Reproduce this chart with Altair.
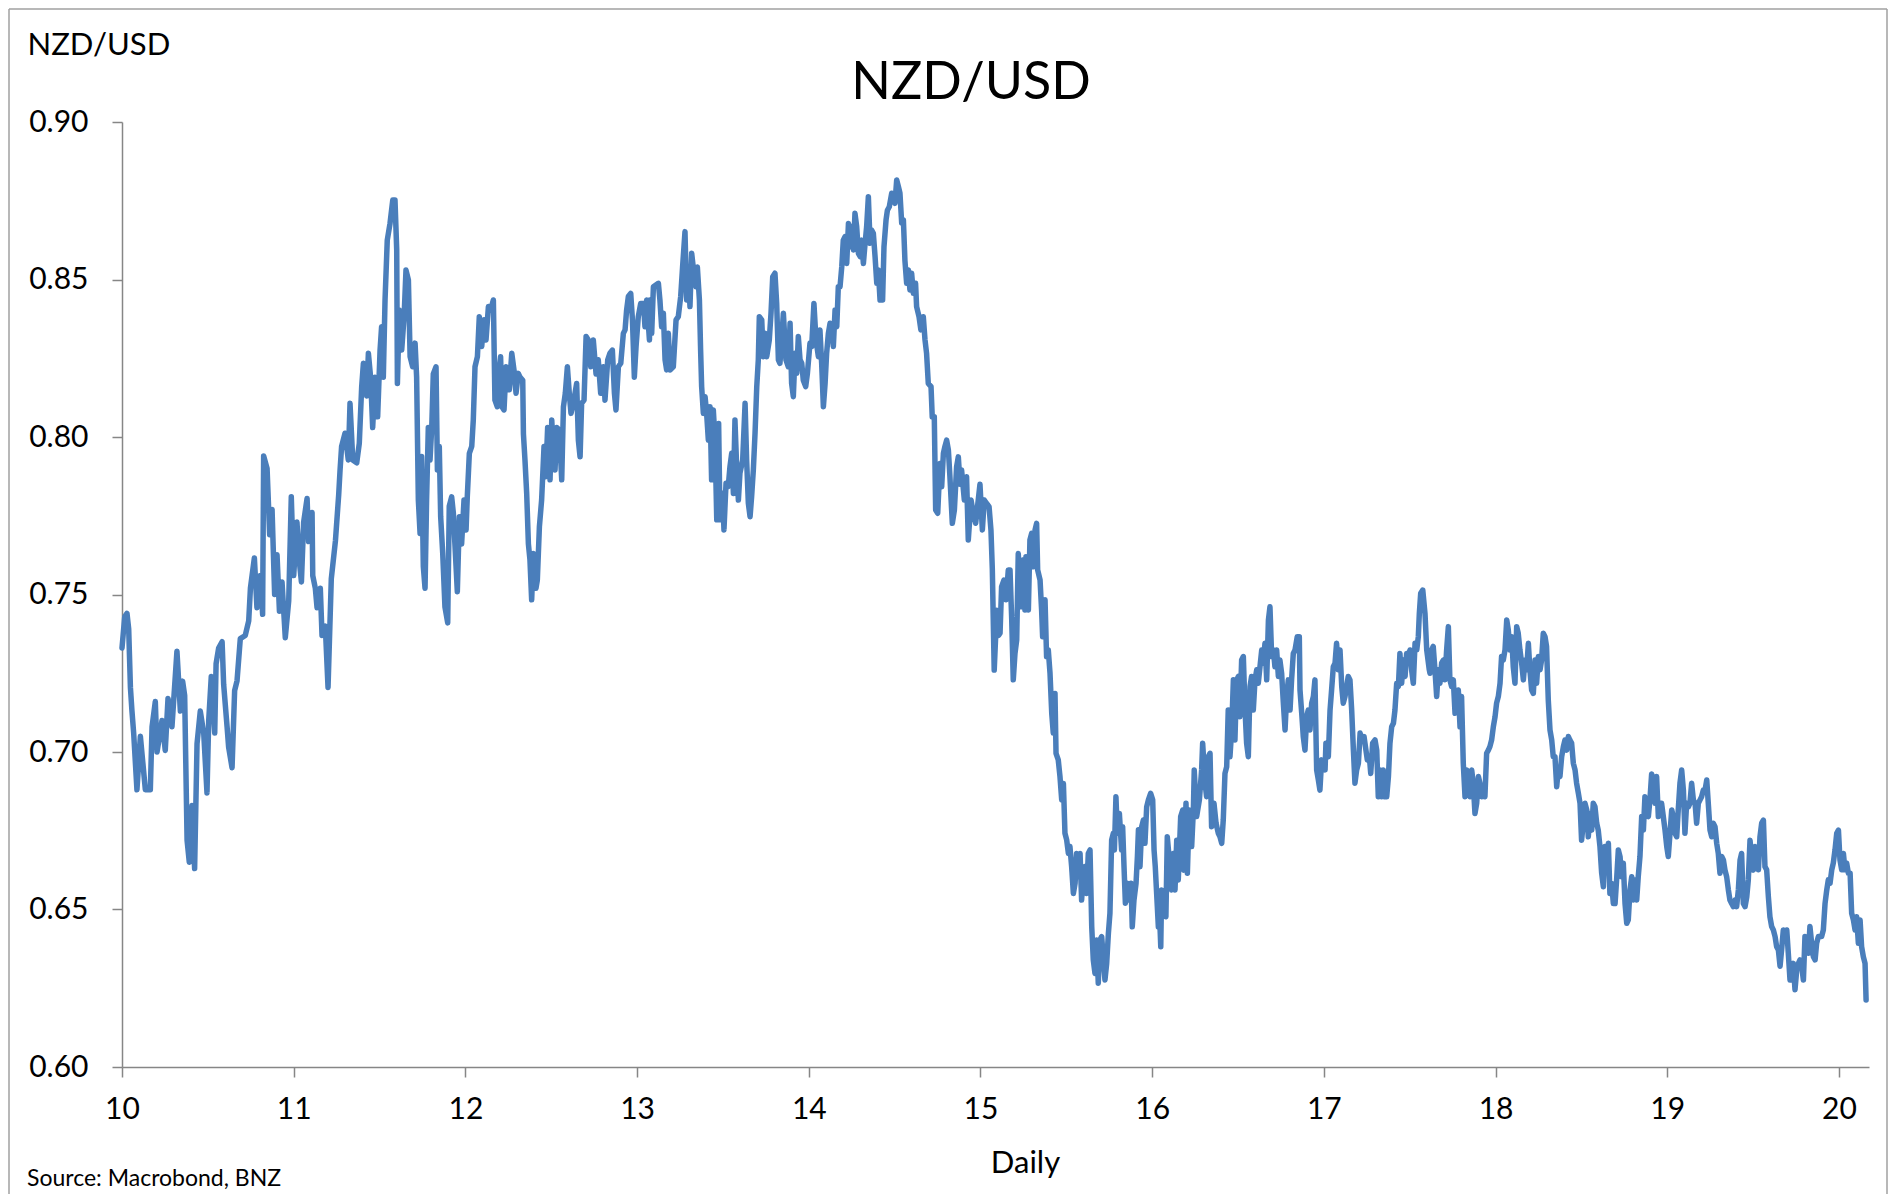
import altair as alt
import pandas as pd

# ---- data (year as decimal, 10 = 2010) ----
YEARS_2010 = [
    10.000, 10.016, 10.029, 10.039, 10.049, 10.058, 10.068, 10.087, 10.107, 10.136,
    10.165, 10.175, 10.194, 10.204, 10.233, 10.252, 10.268, 10.291, 10.320, 10.340,
    10.353, 10.365, 10.379, 10.392, 10.408, 10.423, 10.437, 10.456, 10.476, 10.495,
    10.505, 10.520, 10.540, 10.548, 10.563, 10.583, 10.592, 10.612, 10.621, 10.641,
    10.656, 10.670, 10.689, 10.718, 10.738, 10.748, 10.771, 10.786, 10.806, 10.819,
    10.825, 10.845, 10.860, 10.874, 10.889, 10.903, 10.917, 10.932, 10.951, 10.971,
    10.986, 11.000, 11.019, 11.033, 11.045, 11.058, 11.078, 11.087, 11.107, 11.111,
    11.126, 11.136, 11.155, 11.165, 11.184, 11.200, 11.219, 11.243, 11.262,
    11.270, 11.279, 11.299, 11.318, 11.328, 11.344, 11.367, 11.382, 11.396, 11.406,
    11.425, 11.435, 11.448, 11.460, 11.474, 11.489, 11.503, 11.512, 11.522, 11.532,
    11.545, 11.561, 11.577, 11.590, 11.600, 11.604, 11.615, 11.629, 11.643, 11.654,
    11.668, 11.678, 11.693, 11.707,
]
RATES_2010 = [
    0.733, 0.743, 0.744, 0.739, 0.7205, 0.713, 0.706, 0.688, 0.705, 0.688,
    0.688, 0.708, 0.716, 0.700, 0.710, 0.7005, 0.717, 0.708, 0.732, 0.713,
    0.7225, 0.718, 0.672, 0.665, 0.683, 0.663, 0.7026, 0.713, 0.706, 0.687,
    0.710, 0.724, 0.706, 0.728, 0.733, 0.735, 0.7215, 0.708, 0.7016, 0.695,
    0.7195, 0.7226, 0.736, 0.737, 0.7416, 0.752, 0.7616, 0.7458, 0.756, 0.7437,
    0.794, 0.790, 0.769, 0.777, 0.750, 0.7626, 0.7447, 0.754, 0.7363, 0.748,
    0.781, 0.756, 0.773, 0.7605, 0.754, 0.773, 0.7805, 0.7668, 0.776, 0.756,
    0.752, 0.7458, 0.752, 0.737, 0.740, 0.7205, 0.755, 0.767, 0.7816,
    0.7895, 0.797, 0.8012, 0.7927, 0.8107, 0.7927, 0.7918, 0.798, 0.816, 0.8234,
    0.813, 0.8266, 0.819, 0.803, 0.819, 0.8064, 0.8276, 0.835, 0.819, 0.8435,
    0.8625, 0.8678, 0.8752, 0.8752, 0.8594, 0.817, 0.8403, 0.8276, 0.8382, 0.853,
    0.8499, 0.8255, 0.8223, 0.8298,
]

YEARS_2012 = [
    11.716, 11.726, 11.736, 11.745, 11.755, 11.765, 11.774, 11.784, 11.794, 11.804,
    11.813, 11.829, 11.837, 11.848, 11.856, 11.868, 11.881, 11.897, 11.906, 11.920,
    11.930, 11.939, 11.953, 11.965, 11.978, 11.992, 12.004, 12.011, 12.023, 12.037,
    12.046, 12.056, 12.070, 12.081, 12.095, 12.108, 12.120, 12.134, 12.147, 12.163,
    12.172, 12.186, 12.198, 12.205, 12.213, 12.225, 12.237, 12.256, 12.270, 12.283,
    12.295, 12.308, 12.318, 12.334, 12.338, 12.347, 12.357, 12.367, 12.376, 12.386,
    12.396, 12.411, 12.419, 12.431, 12.444, 12.458, 12.468, 12.479, 12.493, 12.503,
    12.512, 12.522, 12.532, 12.547, 12.561, 12.571, 12.582, 12.594, 12.605, 12.615,
    12.629, 12.648, 12.658, 12.668, 12.677, 12.691, 12.703, 12.716, 12.730, 12.745,
    12.761, 12.774, 12.788, 12.804, 12.813, 12.829, 12.842, 12.856, 12.868, 12.877,
    12.891, 12.905, 12.920, 12.930, 12.939, 12.949, 12.963, 12.973, 12.984, 12.994,
    13.007, 13.021, 13.037, 13.046, 13.056, 13.072,
]
RATES_2012 = [
    0.819, 0.780, 0.7694, 0.7938, 0.7589, 0.752, 0.780, 0.803, 0.7927, 0.803,
    0.820, 0.8223, 0.7895, 0.797, 0.7747, 0.763, 0.746, 0.741, 0.778, 0.781,
    0.7758, 0.766, 0.7509, 0.7747, 0.766, 0.780, 0.7705, 0.781, 0.7948, 0.797,
    0.8054, 0.8223, 0.8255, 0.8382, 0.8287, 0.8372, 0.8308, 0.8414, 0.8403, 0.8435,
    0.8117, 0.8096, 0.8223, 0.8255, 0.8096, 0.8086, 0.8223, 0.815, 0.8266, 0.8213,
    0.8139, 0.8202, 0.819, 0.818, 0.801, 0.7927, 0.7821, 0.766, 0.761, 0.7483,
    0.763, 0.752, 0.7546, 0.7715, 0.780, 0.797, 0.7874, 0.803, 0.7864, 0.8054,
    0.7959, 0.7895, 0.803, 0.8022, 0.7864, 0.8096, 0.8139, 0.8223, 0.8139, 0.8075,
    0.8107, 0.817, 0.799, 0.7937, 0.8107, 0.8117, 0.8319, 0.8308, 0.8223, 0.8308,
    0.820, 0.8245, 0.8139, 0.8223, 0.8117, 0.8245, 0.8266, 0.8276, 0.8139, 0.8086,
    0.8223, 0.8234, 0.8329, 0.834, 0.8403, 0.8446, 0.8456, 0.8372, 0.819, 0.8287,
    0.8382, 0.8424, 0.8424, 0.835, 0.8435, 0.8308,
]

YEARS_2013 = [
    13.075, 13.085, 13.095, 13.124, 13.133, 13.143, 13.153, 13.163, 13.172, 13.182,
    13.192, 13.211, 13.227, 13.240, 13.254, 13.265, 13.279, 13.289, 13.298, 13.308,
    13.318, 13.331, 13.343, 13.351, 13.363, 13.370, 13.376, 13.386, 13.396, 13.405,
    13.415, 13.425, 13.434, 13.444, 13.454, 13.464, 13.475, 13.483, 13.498, 13.506,
    13.518, 13.531, 13.541, 13.551, 13.561, 13.570, 13.580, 13.590, 13.599, 13.615,
    13.629, 13.638, 13.648, 13.658, 13.667, 13.677, 13.687, 13.697, 13.706, 13.712,
    13.726, 13.735, 13.745, 13.755, 13.770, 13.780, 13.790, 13.803, 13.813, 13.823,
    13.832, 13.842, 13.852, 13.867, 13.881, 13.891, 13.900, 13.910, 13.920, 13.930,
    13.939, 13.949, 13.959, 13.968, 13.982, 13.992, 14.007, 14.017, 14.030, 14.042,
    14.056, 14.065, 14.075, 14.085, 14.095, 14.104, 14.114, 14.124, 14.134, 14.143,
    14.153, 14.163, 14.172, 14.182, 14.192, 14.201, 14.211, 14.221, 14.231, 14.240,
    14.250, 14.260, 14.269, 14.279, 14.289, 14.299, 14.308, 14.318, 14.328, 14.337,
    14.347, 14.357, 14.366, 14.376, 14.386, 14.396, 14.405, 14.415, 14.430, 14.438,
    14.450, 14.458, 14.469, 14.483, 14.493, 14.502, 14.512, 14.522, 14.531,
]
RATES_2013 = [
    0.8435, 0.8329, 0.8477, 0.8488, 0.8435, 0.835, 0.8393, 0.8245, 0.8213, 0.8329,
    0.8213, 0.8223, 0.8372, 0.8382, 0.8446, 0.854, 0.8652, 0.8435, 0.854, 0.8414,
    0.8583, 0.852, 0.8477, 0.854, 0.8435, 0.8276, 0.816, 0.8075, 0.8128, 0.8075,
    0.799, 0.8096, 0.7864, 0.8086, 0.799, 0.7737, 0.8043, 0.7737, 0.7821, 0.7705,
    0.7853, 0.7843, 0.7906, 0.7948, 0.7821, 0.8054, 0.7906, 0.780, 0.7885, 0.7927,
    0.8107, 0.7927, 0.779, 0.7747, 0.781, 0.7895, 0.8012, 0.816, 0.8245, 0.8382,
    0.8372, 0.8255, 0.8329, 0.8255, 0.8308, 0.8393, 0.8509, 0.852, 0.8424, 0.8245,
    0.8234, 0.8308, 0.8393, 0.8245, 0.8223, 0.8361, 0.817, 0.8128, 0.8266, 0.8202,
    0.8319, 0.8245, 0.8234, 0.818, 0.816, 0.8202, 0.8298, 0.8287, 0.8424, 0.8308,
    0.8255, 0.834, 0.8234, 0.8096, 0.817, 0.8266, 0.8329, 0.8361, 0.835, 0.8287,
    0.8403, 0.835, 0.8477, 0.8477, 0.854, 0.8625, 0.8636, 0.8551, 0.8678, 0.8604,
    0.8668, 0.8594, 0.871, 0.8668, 0.8583, 0.8573, 0.8625, 0.8551, 0.8615, 0.8668,
    0.8763, 0.8615, 0.8657, 0.8647, 0.8573, 0.8488, 0.853, 0.8435, 0.8435, 0.8604,
    0.8689, 0.872, 0.8731, 0.8774, 0.8752, 0.8742, 0.8816, 0.8795, 0.8774,
]

YEARS_2014 = [
    14.541, 14.551, 14.560, 14.570, 14.580, 14.589, 14.599, 14.609, 14.622, 14.628,
    14.642, 14.653, 14.667, 14.677, 14.686, 14.696, 14.712, 14.719, 14.731, 14.739,
    14.751, 14.764, 14.774, 14.784, 14.793, 14.803, 14.813, 14.822, 14.836, 14.848,
    14.861, 14.871, 14.881, 14.890, 14.906, 14.919, 14.929, 14.945, 14.958, 14.972,
    14.987, 14.997, 15.011, 15.022, 15.036, 15.050, 15.061, 15.069, 15.080, 15.095,
    15.105,
    15.114, 15.123, 15.137, 15.149, 15.162, 15.172, 15.182, 15.191, 15.201, 15.211,
    15.220, 15.230, 15.240, 15.250, 15.259, 15.265, 15.279, 15.288, 15.298, 15.308,
    15.318, 15.327, 15.333, 15.347, 15.356, 15.362, 15.376, 15.385, 15.395, 15.405,
    15.415, 15.424, 15.434, 15.440, 15.453, 15.463, 15.473, 15.483, 15.492, 15.502,
    15.512, 15.521, 15.531, 15.541, 15.551, 15.560, 15.570, 15.580, 15.589, 15.599,
    15.609, 15.618, 15.628, 15.638, 15.648, 15.657, 15.667, 15.677, 15.686, 15.696,
    15.706, 15.716, 15.725, 15.735, 15.745, 15.754, 15.764, 15.774, 15.780, 15.789,
    15.797, 15.809, 15.822, 15.828, 15.836, 15.844, 15.855, 15.867, 15.877, 15.884,
    15.894, 15.906, 15.914, 15.920, 15.929, 15.939, 15.949, 15.958, 15.968, 15.978,
    15.991, 16.003, 16.011, 16.018, 16.026, 16.036, 16.042, 16.050,
]
RATES_2014 = [
    0.868, 0.8689, 0.856, 0.8488, 0.853, 0.8467, 0.852, 0.8456, 0.8488, 0.8414,
    0.8382, 0.834, 0.8382, 0.8308, 0.8266, 0.817, 0.816, 0.8064, 0.8064, 0.7768,
    0.7758, 0.7916, 0.7842, 0.7948, 0.797, 0.799, 0.7959, 0.7874, 0.7726, 0.7768,
    0.7906, 0.7937, 0.785, 0.7895, 0.780, 0.7874, 0.7673, 0.780, 0.7758, 0.7726,
    0.780, 0.785, 0.7705, 0.780, 0.7789, 0.7779, 0.7705, 0.758, 0.726, 0.745,
    0.737,
    0.7377, 0.7525, 0.7546, 0.7483, 0.7578, 0.7578, 0.7419, 0.7229, 0.7313, 0.7356,
    0.763, 0.7535, 0.7461, 0.761, 0.7451, 0.762, 0.7451, 0.7673, 0.7694, 0.7588,
    0.7705, 0.7726, 0.7578, 0.7546, 0.7451, 0.7366, 0.7483, 0.7303, 0.7324, 0.725,
    0.7123, 0.706, 0.7186, 0.6996, 0.6975, 0.6922, 0.6848, 0.690, 0.6742, 0.6721,
    0.6678, 0.670, 0.6636, 0.6551, 0.6583, 0.6678, 0.6604, 0.6678, 0.653, 0.6615,
    0.6636, 0.6551, 0.6678, 0.6689, 0.6445, 0.634, 0.6297, 0.6403, 0.6266, 0.6403,
    0.6414, 0.634, 0.6276, 0.6329, 0.6424, 0.6488, 0.6721, 0.6742, 0.6689, 0.6858,
    0.6742, 0.6805, 0.6689, 0.6763, 0.6636, 0.652, 0.6583, 0.653, 0.6583, 0.6445,
    0.653, 0.6583, 0.6668, 0.6753, 0.6636, 0.6763, 0.6784, 0.671, 0.6826, 0.6848,
    0.6869, 0.6848, 0.6689, 0.6636, 0.6551, 0.6445, 0.6498, 0.6382,
]

YEARS_2016 = [
    16.055, 16.065, 16.080, 16.088, 16.100, 16.113, 16.123, 16.133, 16.143, 16.152,
    16.166, 16.178, 16.185, 16.197, 16.205, 16.216, 16.230, 16.240, 16.245, 16.259,
    16.275, 16.288, 16.294, 16.308, 16.317, 16.327, 16.337, 16.346, 16.360, 16.372,
    16.385, 16.395, 16.405, 16.414, 16.424, 16.434, 16.443, 16.453, 16.463, 16.473,
    16.482, 16.492, 16.502, 16.511, 16.521, 16.531, 16.541, 16.550, 16.560, 16.570,
    16.579, 16.589, 16.599, 16.609, 16.618, 16.628, 16.638, 16.647, 16.657, 16.667,
    16.677, 16.686, 16.696, 16.706, 16.715, 16.725, 16.735, 16.744, 16.754, 16.764,
    16.774, 16.783, 16.793, 16.803, 16.812, 16.822, 16.832, 16.845, 16.857, 16.861,
    16.871, 16.880, 16.890, 16.900, 16.909, 16.919, 16.929, 16.939, 16.948, 16.958,
    16.968, 16.977, 16.987, 16.997, 17.007, 17.012, 17.026, 17.036, 17.045, 17.055,
    17.065, 17.074, 17.084, 17.094, 17.104, 17.113, 17.123, 17.133, 17.142, 17.152,
    17.162, 17.172, 17.181, 17.191, 17.201, 17.211, 17.220, 17.234, 17.245, 17.253,
    17.265, 17.273, 17.284, 17.298, 17.308, 17.317, 17.327, 17.337, 17.346, 17.356,
    17.366, 17.376, 17.385, 17.395, 17.405, 17.414, 17.424, 17.434, 17.443, 17.453,
    17.463, 17.473, 17.482, 17.492, 17.502, 17.511, 17.521, 17.531, 17.541, 17.550,
    17.556, 17.564, 17.576, 17.589, 17.599, 17.614,
]
RATES_2016 = [
    0.6562, 0.6509, 0.6477, 0.6731, 0.6657, 0.6562, 0.6678, 0.6562, 0.672, 0.6594,
    0.6795, 0.6816, 0.6625, 0.6837, 0.6615, 0.6816, 0.670, 0.6816, 0.6943, 0.6795,
    0.6848, 0.6943, 0.7028, 0.6901, 0.6858, 0.6985, 0.6996, 0.6763, 0.6837, 0.6774,
    0.6742, 0.6731, 0.671, 0.6784, 0.6932, 0.6953, 0.7133, 0.6985, 0.707, 0.7229,
    0.7038, 0.7229, 0.724, 0.7112, 0.7292, 0.7303, 0.7133, 0.7028, 0.6985, 0.7208,
    0.724, 0.7133, 0.7229, 0.7261, 0.7218, 0.7271, 0.7324, 0.7282, 0.7345, 0.7229,
    0.7419, 0.7461, 0.7303, 0.7324, 0.7271, 0.7324, 0.724, 0.7292, 0.725, 0.7155,
    0.707, 0.7176, 0.7229, 0.7133, 0.7229, 0.7313, 0.7324, 0.7366, 0.7366, 0.7197,
    0.7123, 0.7049, 0.7006, 0.7112, 0.7133, 0.707, 0.7155, 0.7176, 0.7229, 0.6943,
    0.6911, 0.6879, 0.6975, 0.6964, 0.6943, 0.7028, 0.6985, 0.7133, 0.7197, 0.7271,
    0.7282, 0.7345, 0.7261, 0.7324, 0.7208, 0.7155, 0.7176, 0.7208, 0.724, 0.7229,
    0.7133, 0.7006, 0.6901, 0.6943, 0.6964, 0.706, 0.7038, 0.7049, 0.7006, 0.6975,
    0.6985, 0.6932, 0.7028, 0.7038, 0.7006, 0.6858, 0.6943, 0.6858, 0.6943, 0.6858,
    0.6858, 0.6922, 0.7028, 0.708, 0.7091, 0.7133, 0.7218, 0.7208, 0.7313, 0.7218,
    0.7292, 0.724, 0.7313, 0.7303, 0.7324, 0.7261, 0.7218, 0.7345, 0.7324, 0.7366,
    0.744, 0.7504, 0.7514, 0.744, 0.7324, 0.7261,
]

YEARS_2018 = [
    17.618, 17.628, 17.637, 17.647, 17.657, 17.667, 17.676, 17.686, 17.696, 17.705,
    17.715, 17.725, 17.734, 17.744, 17.754, 17.764, 17.773, 17.783, 17.793, 17.802,
    17.812, 17.822, 17.832, 17.841, 17.851, 17.861, 17.870, 17.880, 17.890, 17.900,
    17.909, 17.919, 17.929, 17.938, 17.948, 17.958, 17.967, 17.977, 17.987, 17.997,
    18.006, 18.016, 18.026, 18.035, 18.045, 18.055, 18.065, 18.074, 18.084, 18.094,
    18.103, 18.113, 18.123, 18.132, 18.142, 18.152, 18.162, 18.171, 18.181, 18.191,
    18.200, 18.210, 18.220, 18.230, 18.239, 18.249, 18.259, 18.268, 18.278, 18.288,
    18.297, 18.307, 18.317, 18.327, 18.336, 18.346, 18.356, 18.365, 18.375, 18.385,
    18.395, 18.404, 18.414, 18.424, 18.433, 18.443, 18.453, 18.463, 18.472, 18.482,
    18.492, 18.501, 18.511, 18.521, 18.531, 18.540, 18.550, 18.560, 18.569, 18.579,
    18.589, 18.598, 18.608, 18.618, 18.628, 18.637, 18.647, 18.657, 18.666, 18.676,
    18.686, 18.696, 18.705, 18.715, 18.725, 18.734, 18.744, 18.754, 18.764, 18.773,
    18.783, 18.793, 18.802, 18.812, 18.822, 18.831, 18.841, 18.851, 18.861, 18.870,
]
RATES_2018 = [
    0.725, 0.7324, 0.7335, 0.7261, 0.7176, 0.7261, 0.7218, 0.7282, 0.7292, 0.7229,
    0.7324, 0.7398, 0.7229, 0.7208, 0.7229, 0.7123, 0.7176, 0.7197, 0.708, 0.7176,
    0.6964, 0.6858, 0.6943, 0.6901, 0.6858, 0.6943, 0.6901, 0.6805, 0.6837, 0.6922,
    0.6901, 0.6858, 0.6879, 0.6858, 0.6996, 0.7006, 0.7017, 0.7038, 0.708, 0.7112,
    0.7155, 0.7176, 0.7218, 0.7303, 0.7292, 0.7324, 0.7419, 0.7388, 0.7324, 0.7366,
    0.7271, 0.7218, 0.7398, 0.7377, 0.7324, 0.7282, 0.7229, 0.7292, 0.7261, 0.7345,
    0.7261, 0.7197, 0.7186, 0.7292, 0.7218, 0.7303, 0.7261, 0.7292, 0.7377, 0.7366,
    0.7335, 0.7165, 0.707, 0.7038, 0.6985, 0.6985, 0.689, 0.6943, 0.6922, 0.6985,
    0.7017, 0.7038, 0.7006, 0.7049, 0.7038, 0.7028, 0.6964, 0.6943, 0.6901, 0.687,
    0.6837, 0.672, 0.6774, 0.6837, 0.6816, 0.6731, 0.6805, 0.6752, 0.6837, 0.6826,
    0.6774, 0.6752, 0.670, 0.6615, 0.6572, 0.670, 0.6647, 0.671, 0.6551, 0.6583,
    0.6519, 0.6519, 0.6594, 0.6689, 0.6668, 0.6604, 0.6647, 0.6519, 0.6456, 0.6467,
    0.6562, 0.6604, 0.653, 0.6594, 0.653, 0.6604, 0.6668, 0.6795, 0.6752, 0.6858,
]

YEARS_2019 = [
    18.880, 18.890, 18.899, 18.909, 18.919, 18.929, 18.938, 18.948, 18.958, 18.967,
    18.977, 18.987, 18.997, 19.006, 19.016, 19.026, 19.035, 19.045, 19.055, 19.064,
    19.074, 19.084, 19.094, 19.103, 19.113, 19.123, 19.132, 19.142, 19.152, 19.162,
    19.171, 19.181, 19.191, 19.200, 19.210, 19.220, 19.230, 19.239, 19.249, 19.259,
    19.268, 19.278, 19.288, 19.297, 19.307, 19.317, 19.327, 19.336, 19.346, 19.356,
    19.365, 19.375, 19.385, 19.395, 19.404, 19.414, 19.424, 19.433, 19.443, 19.453,
    19.463, 19.472, 19.482, 19.492, 19.501, 19.511, 19.521, 19.531, 19.540, 19.550,
    19.560, 19.569, 19.579, 19.589, 19.598, 19.608, 19.618, 19.628, 19.637, 19.647,
    19.657, 19.666, 19.676, 19.686, 19.696, 19.705, 19.715, 19.725, 19.734, 19.744,
    19.754, 19.764, 19.773, 19.783, 19.793, 19.802, 19.812, 19.822, 19.831, 19.841,
    19.851, 19.861, 19.870, 19.880, 19.890, 19.899, 19.909, 19.919, 19.929, 19.938,
    19.948, 19.958, 19.967, 19.977, 19.987, 19.997, 20.006, 20.016, 20.026, 20.035,
    20.045, 20.055, 20.065, 20.074, 20.084, 20.094, 20.103, 20.113, 20.123, 20.132,
    20.142, 20.152, 20.158,
]
RATES_2019 = [
    0.6816, 0.6795, 0.6848, 0.693, 0.6901, 0.6837, 0.6922, 0.6795, 0.6837, 0.6837,
    0.6795, 0.6752, 0.670, 0.6668, 0.6742, 0.6816, 0.6795, 0.6742, 0.6731, 0.6816,
    0.6901, 0.6943, 0.6879, 0.6742, 0.6837, 0.6826, 0.6837, 0.6901, 0.6848, 0.6837,
    0.6774, 0.6837, 0.6848, 0.6858, 0.6879, 0.6879, 0.6911, 0.6837, 0.6752, 0.6731,
    0.6774, 0.6763, 0.671, 0.6679, 0.6615, 0.6668, 0.6657, 0.6626, 0.6604, 0.6562,
    0.653, 0.6519, 0.6509, 0.653, 0.6509, 0.6562, 0.6657, 0.6678, 0.6519, 0.6509,
    0.654, 0.6594, 0.672, 0.6668, 0.6625, 0.670, 0.6668, 0.6626, 0.6731, 0.6774,
    0.6784, 0.6636, 0.6626, 0.654, 0.6477, 0.6446, 0.6435, 0.6414, 0.6382, 0.6372,
    0.632, 0.6372, 0.6435, 0.6414, 0.6435, 0.6361, 0.6276, 0.6297, 0.6329, 0.6245,
    0.6308, 0.6329, 0.634, 0.632, 0.6276, 0.6414, 0.6393, 0.6361, 0.6446, 0.6393,
    0.635, 0.634, 0.6393, 0.6414, 0.6414, 0.6414, 0.6435, 0.6519, 0.6562, 0.6594,
    0.6583, 0.6626, 0.6647, 0.6689, 0.6742, 0.6752, 0.6657, 0.6626, 0.6678, 0.6626,
    0.6647, 0.6615, 0.6615, 0.6488, 0.6467, 0.6435, 0.6477, 0.6393, 0.6467, 0.6382,
    0.635, 0.6329, 0.6213,
]

X_TICKS = [10, 11, 12, 13, 14, 15, 16, 17, 18, 19, 20]
Y_TICKS = [0.60, 0.65, 0.70, 0.75, 0.80, 0.85, 0.90]
TITLE = ["NZD/USD"]
SOURCE = ["Source: Macrobond, BNZ"]

years = YEARS_2010 + YEARS_2012 + YEARS_2013 + YEARS_2014 + YEARS_2016 + YEARS_2018 + YEARS_2019
rates = RATES_2010 + RATES_2012 + RATES_2013 + RATES_2014 + RATES_2016 + RATES_2018 + RATES_2019
df = pd.DataFrame({"year": years, "rate": rates})

FONT = "Lato"
GREY = "#868686"
W, H = 1747, 945

line = alt.Chart(df).mark_line(
    color="#4a7ebb", strokeWidth=5.5, strokeJoin="round", strokeCap="round"
).encode(
    x=alt.X(
        "year:Q",
        scale=alt.Scale(domain=[10, 20.175], nice=False, zero=False),
        axis=alt.Axis(
            values=X_TICKS, format="d", grid=False, title="Daily",
            tickSize=10, tickWidth=1.5, tickColor=GREY,
            domainColor=GREY, domainWidth=1.5,
            labelFont=FONT, labelFontSize=30, labelColor="black",
            labelPadding=17, labelFlush=False, labelOverlap=False,
            titleFont=FONT, titleFontSize=31, titleFontWeight="normal",
            titleColor="black", titleX=903, titleY=105,
            titleAlign="center", titleBaseline="alphabetic",
        ),
    ),
    y=alt.Y(
        "rate:Q",
        scale=alt.Scale(domain=[0.60, 0.90], nice=False, zero=False),
        axis=alt.Axis(
            values=Y_TICKS, format=".2f", grid=False, title="NZD/USD",
            tickSize=10, tickWidth=1.5, tickColor=GREY,
            domainColor=GREY, domainWidth=1.5,
            labelFont=FONT, labelFontSize=30, labelColor="black",
            labelPadding=24,
            titleFont=FONT, titleFontSize=31, titleFontWeight="normal",
            titleColor="black", titleAngle=0, titleX=-95, titleY=-68,
            titleAlign="left", titleBaseline="alphabetic",
        ),
    ),
)

title = alt.Chart(pd.DataFrame({"t": TITLE})).mark_text(
    font=FONT, fontSize=52, align="center", baseline="alphabetic", color="black"
).encode(x=alt.value(849), y=alt.value(-23), text="t:N")

source = alt.Chart(pd.DataFrame({"t": SOURCE})).mark_text(
    font=FONT, fontSize=23, align="left", baseline="alphabetic", color="black"
).encode(x=alt.value(-95), y=alt.value(1064), text="t:N")

frame_df = pd.DataFrame({"k": [0]})
frame_left = alt.Chart(frame_df).mark_rule(color="#a0a0a0", strokeWidth=1.5).encode(
    x=alt.value(-113), y=alt.value(-113), y2=alt.value(1072))
frame_top = alt.Chart(frame_df).mark_rule(color="#a0a0a0", strokeWidth=1.5).encode(
    x=alt.value(-113), x2=alt.value(1765), y=alt.value(-113))
frame_right = alt.Chart(frame_df).mark_rule(color="#a0a0a0", strokeWidth=1.5).encode(
    x=alt.value(1765), y=alt.value(-113), y2=alt.value(1072))

chart = alt.layer(line, title, source, frame_left, frame_top, frame_right).properties(
    width=W, height=H,
    padding={"left": 114, "top": 114, "right": 20, "bottom": 127},
    autosize=alt.AutoSizeParams(type="none"),
).configure_view(stroke=None)

chart.save("out.html", embed_options={"renderer": "svg", "actions": False})
